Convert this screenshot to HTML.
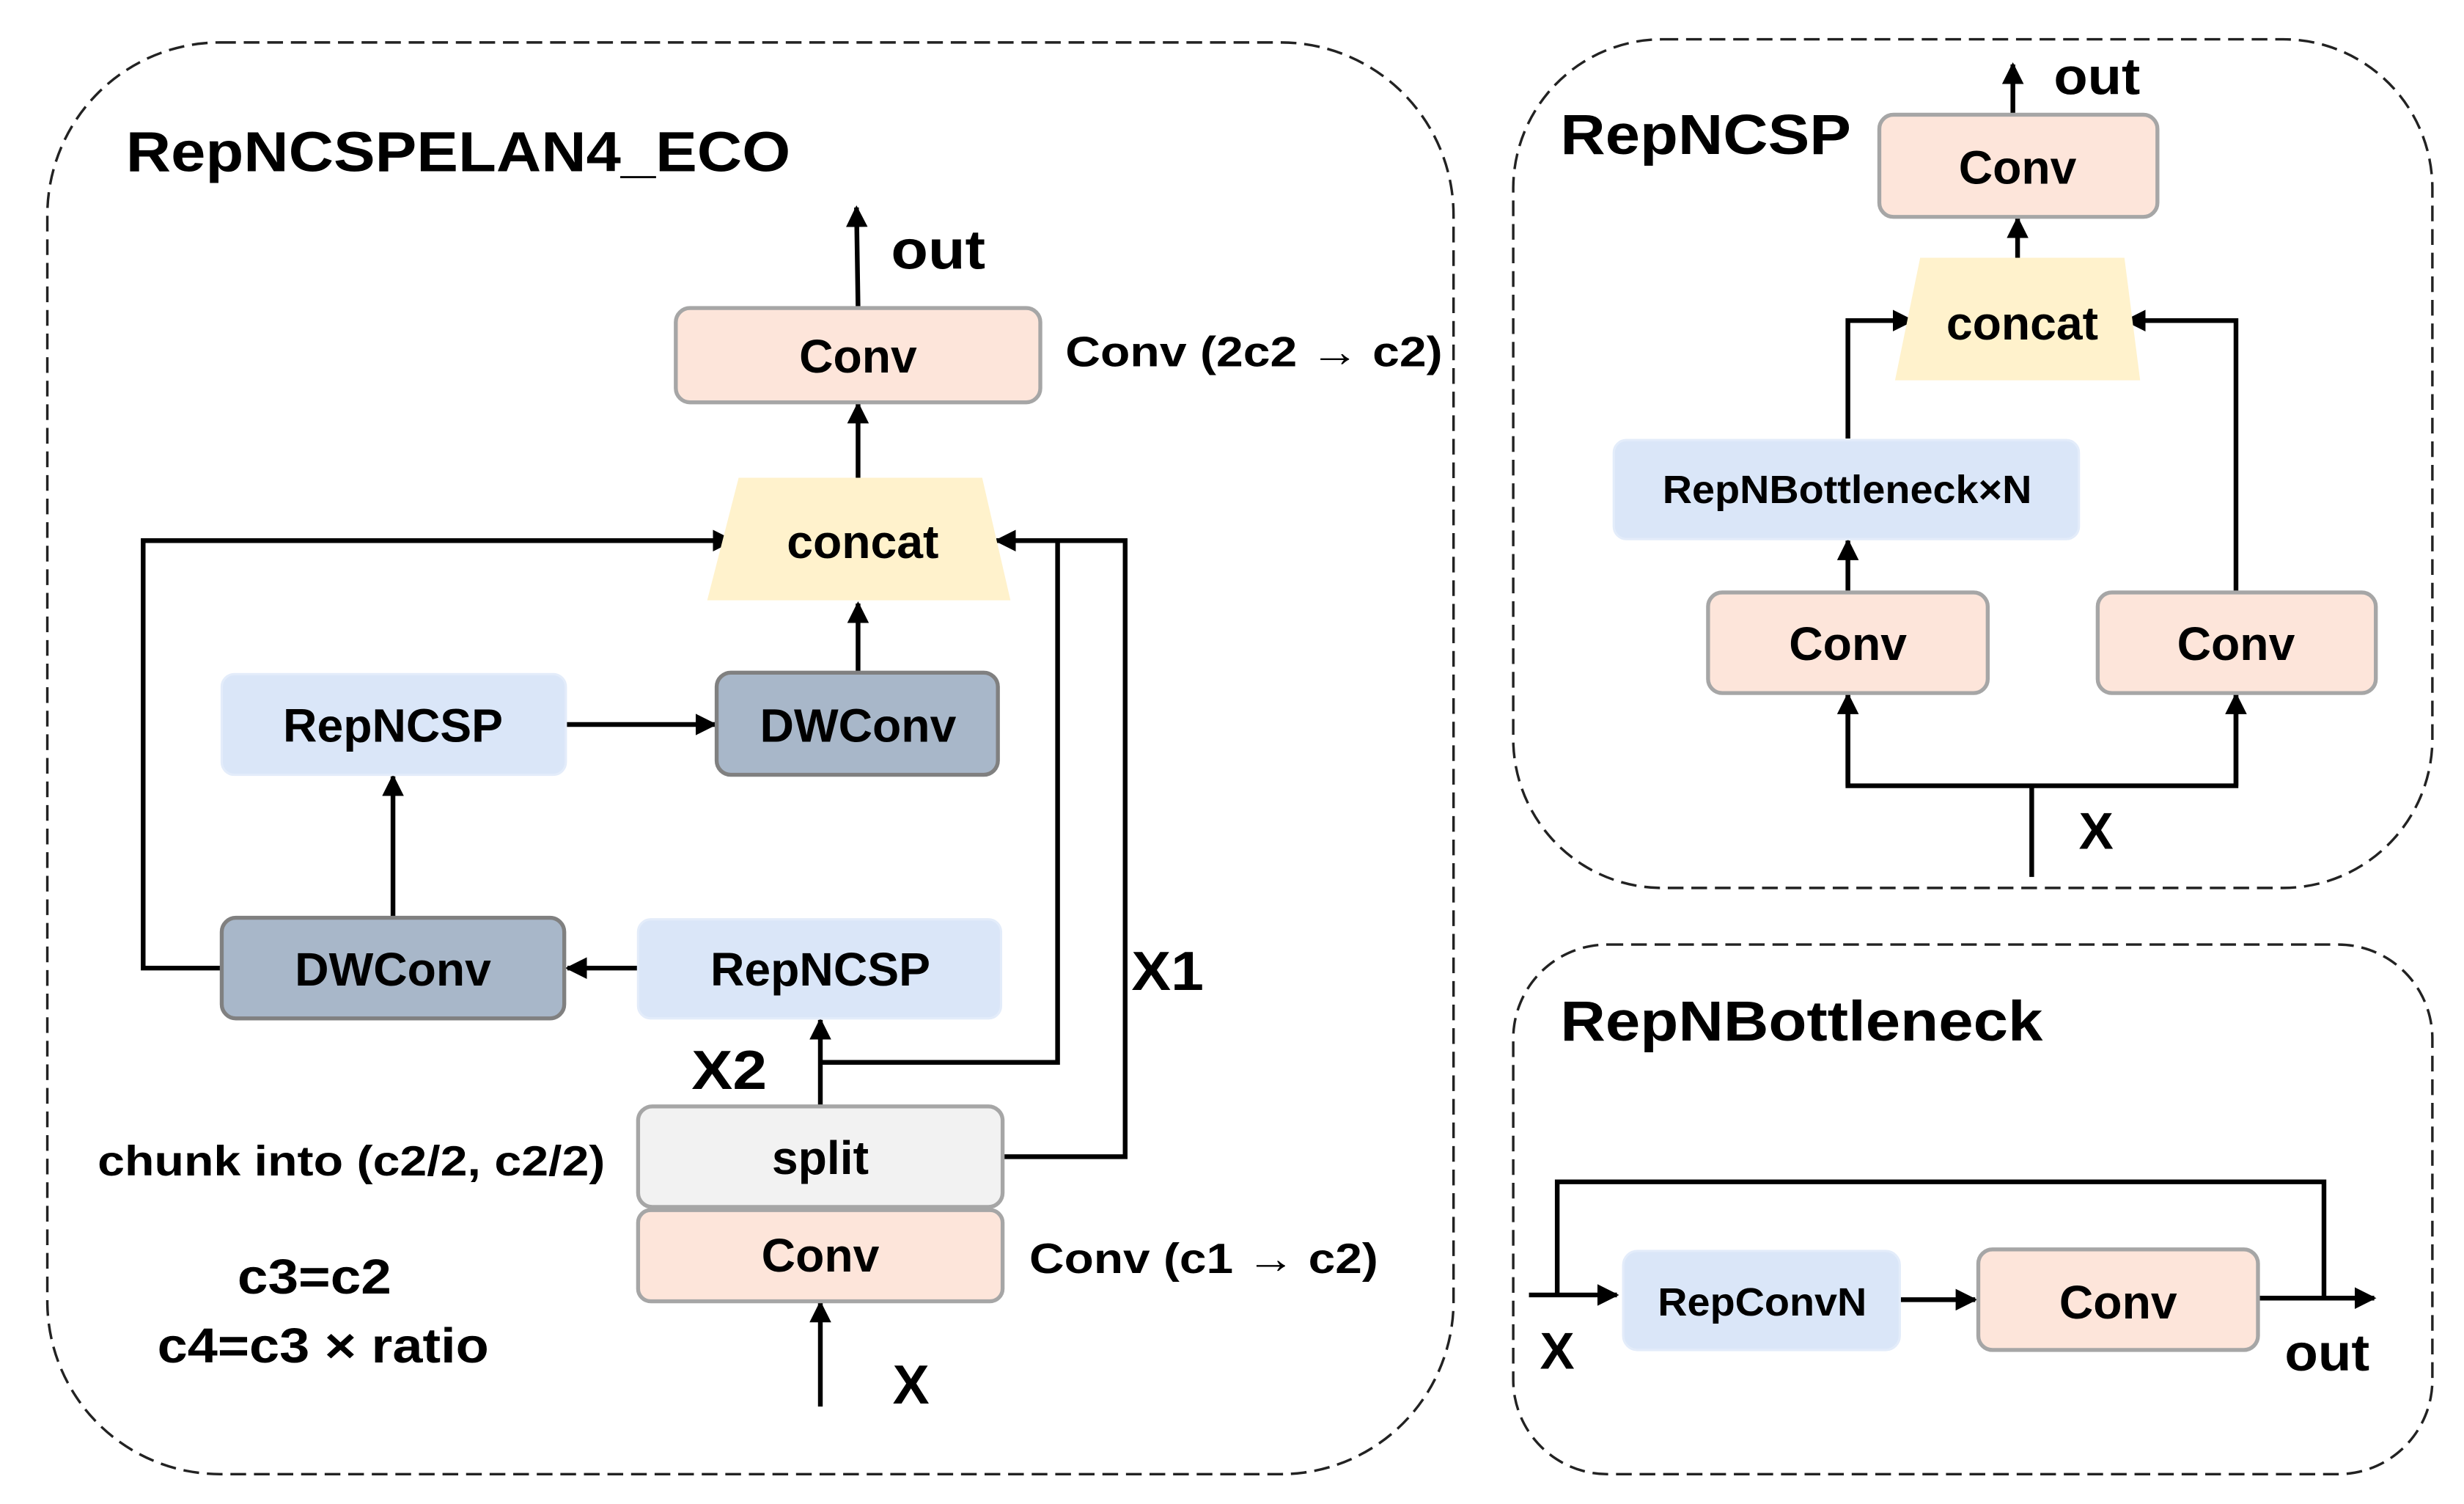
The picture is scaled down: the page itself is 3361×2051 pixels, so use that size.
<!DOCTYPE html>
<html><head><meta charset="utf-8"><style>
html,body{margin:0;padding:0;background:#fff}
svg{display:block}
text{font-family:"Liberation Sans",Arial,sans-serif;font-weight:bold;fill:#000}
</style></head><body>
<svg width="3361" height="2051" viewBox="0 0 1568 957" xmlns="http://www.w3.org/2000/svg">
<defs>
<marker id="a" viewBox="0 0 10 10" refX="9" refY="5" markerWidth="4.6" markerHeight="4.6" orient="auto" markerUnits="strokeWidth">
<path d="M0,0 L10,5 L0,10 z" fill="#000"/></marker>
</defs>
<rect width="1568" height="957" fill="#fff"/>
<g fill="none" stroke="#222" stroke-width="1.6" stroke-dasharray="10,5">
<rect x="30" y="27" width="895" height="911" rx="110"/>
<rect x="963" y="25" width="585" height="540" rx="95"/>
<rect x="963" y="601" width="585" height="337" rx="60"/>
</g>
<text x="80" y="109" font-size="36" textLength="423" lengthAdjust="spacingAndGlyphs">RepNCSPELAN4_ECO</text>
<text x="993" y="98" font-size="36" textLength="185" lengthAdjust="spacingAndGlyphs">RepNCSP</text>
<text x="993" y="662" font-size="36" textLength="307" lengthAdjust="spacingAndGlyphs">RepNBottleneck</text>

<g stroke="#000" stroke-width="3" fill="none">
<line x1="546" y1="196" x2="545" y2="132" marker-end="url(#a)"/>
<line x1="546" y1="304" x2="546" y2="257" marker-end="url(#a)"/>
<line x1="546" y1="427" x2="546" y2="384" marker-end="url(#a)"/>
<line x1="360" y1="461" x2="455" y2="461" marker-end="url(#a)"/>
<line x1="250" y1="584" x2="250" y2="494" marker-end="url(#a)"/>
<polyline points="141,616 91,616 91,344 466,344" marker-end="url(#a)"/>
<line x1="406" y1="616" x2="361" y2="616" marker-end="url(#a)"/>
<line x1="522" y1="704" x2="522" y2="649" marker-end="url(#a)"/>
<polyline points="522,676 673,676 673,344"/>
<polyline points="638,736 716,736 716,344 634,344" marker-end="url(#a)"/>
<line x1="522" y1="895" x2="522" y2="829" marker-end="url(#a)"/>
</g>
<rect x="430" y="196" width="232" height="60" rx="9" fill="#fde5da" stroke="#a6a6a6" stroke-width="2.5"/>
<text x="546" y="237" font-size="30" text-anchor="middle">Conv</text>
<text x="678" y="233" font-size="27" textLength="240" lengthAdjust="spacingAndGlyphs">Conv (2c2 → c2)</text>
<text x="567" y="171" font-size="35" textLength="60" lengthAdjust="spacingAndGlyphs">out</text>
<polygon points="470,304 625,304 643,382 450,382" fill="#fff2cc"/>
<text x="549" y="355" font-size="30" text-anchor="middle">concat</text>
<rect x="141" y="429" width="219" height="64" rx="8" fill="#dae6f8" stroke="#e3ecfa" stroke-width="1.5"/>
<text x="250" y="472" font-size="30" text-anchor="middle">RepNCSP</text>
<rect x="456" y="428" width="179" height="65" rx="9" fill="#a8b7c9" stroke="#808080" stroke-width="2.5"/>
<text x="546" y="472" font-size="30" text-anchor="middle">DWConv</text>
<rect x="141" y="584" width="218" height="64" rx="9" fill="#a8b7c9" stroke="#808080" stroke-width="2.5"/>
<text x="250" y="627" font-size="30" text-anchor="middle">DWConv</text>
<rect x="406" y="585" width="231" height="63" rx="8" fill="#dae6f8" stroke="#e3ecfa" stroke-width="1.5"/>
<text x="522" y="627" font-size="30" text-anchor="middle">RepNCSP</text>
<rect x="406" y="704" width="232" height="64" rx="9" fill="#f2f2f2" stroke="#a6a6a6" stroke-width="2.5"/>
<text x="522" y="747" font-size="30" text-anchor="middle">split</text>
<rect x="406" y="770" width="232" height="58" rx="8" fill="#fde5da" stroke="#a6a6a6" stroke-width="2.5"/>
<text x="522" y="809" font-size="30" text-anchor="middle">Conv</text>
<text x="440" y="693" font-size="35" textLength="48" lengthAdjust="spacingAndGlyphs">X2</text>
<text x="720" y="630" font-size="35" textLength="46" lengthAdjust="spacingAndGlyphs">X1</text>
<text x="62" y="748" font-size="27" textLength="323" lengthAdjust="spacingAndGlyphs">chunk into (c2/2, c2/2)</text>
<text x="655" y="810" font-size="27" textLength="222" lengthAdjust="spacingAndGlyphs">Conv (c1 → c2)</text>
<text x="151" y="823" font-size="31" textLength="98" lengthAdjust="spacingAndGlyphs">c3=c2</text>
<text x="100" y="867" font-size="31" textLength="211" lengthAdjust="spacingAndGlyphs">c4=c3 × ratio</text>
<text x="568" y="893" font-size="35">X</text>

<g stroke="#000" stroke-width="3" fill="none">
<line x1="1281" y1="73" x2="1281" y2="41" marker-end="url(#a)"/>
<line x1="1284" y1="164" x2="1284" y2="139" marker-end="url(#a)"/>
<polyline points="1176,279 1176,204 1217,204" marker-end="url(#a)"/>
<polyline points="1423,376 1423,204 1353,204" marker-end="url(#a)"/>
<line x1="1176" y1="377" x2="1176" y2="344" marker-end="url(#a)"/>
<line x1="1293" y1="558" x2="1293" y2="500"/>
<polyline points="1176,442 1176,500 1423,500 1423,442"/>
<line x1="1176" y1="500" x2="1176" y2="442" marker-end="url(#a)"/>
<line x1="1423" y1="500" x2="1423" y2="442" marker-end="url(#a)"/>
</g>
<rect x="1196" y="73" width="177" height="65" rx="9" fill="#fde5da" stroke="#a6a6a6" stroke-width="2.5"/>
<text x="1284" y="117" font-size="30" text-anchor="middle">Conv</text>
<text x="1307" y="60" font-size="33" textLength="55" lengthAdjust="spacingAndGlyphs">out</text>
<polygon points="1222,164 1352,164 1362,242 1206,242" fill="#fff2cc"/>
<text x="1287" y="216" font-size="30" text-anchor="middle">concat</text>
<rect x="1027" y="280" width="296" height="63" rx="8" fill="#dae6f8" stroke="#e3ecfa" stroke-width="1.5"/>
<text x="1058" y="320" font-size="25" textLength="235" lengthAdjust="spacingAndGlyphs">RepNBottleneck×N</text>
<rect x="1087" y="377" width="178" height="64" rx="9" fill="#fde5da" stroke="#a6a6a6" stroke-width="2.5"/>
<text x="1176" y="420" font-size="30" text-anchor="middle">Conv</text>
<rect x="1335" y="377" width="177" height="64" rx="9" fill="#fde5da" stroke="#a6a6a6" stroke-width="2.5"/>
<text x="1423" y="420" font-size="30" text-anchor="middle">Conv</text>
<text x="1323" y="540" font-size="33">X</text>

<g stroke="#000" stroke-width="3" fill="none">
<line x1="973" y1="824" x2="1029" y2="824" marker-end="url(#a)"/>
<polyline points="991,824 991,752 1479,752 1479,826"/>
<line x1="1209" y1="827" x2="1257" y2="827" marker-end="url(#a)"/>
<line x1="1437" y1="826" x2="1511" y2="826" marker-end="url(#a)"/>
</g>
<rect x="1033" y="796" width="176" height="63" rx="9" fill="#dae6f8" stroke="#e3ecfa" stroke-width="1.5"/>
<text x="1055" y="837" font-size="25" textLength="133" lengthAdjust="spacingAndGlyphs">RepConvN</text>
<rect x="1259" y="795" width="178" height="64" rx="9" fill="#fde5da" stroke="#a6a6a6" stroke-width="2.5"/>
<text x="1348" y="839" font-size="30" text-anchor="middle">Conv</text>
<text x="980" y="871" font-size="33">X</text>
<text x="1454" y="872" font-size="33" textLength="54" lengthAdjust="spacingAndGlyphs">out</text>
</svg>
</body></html>
